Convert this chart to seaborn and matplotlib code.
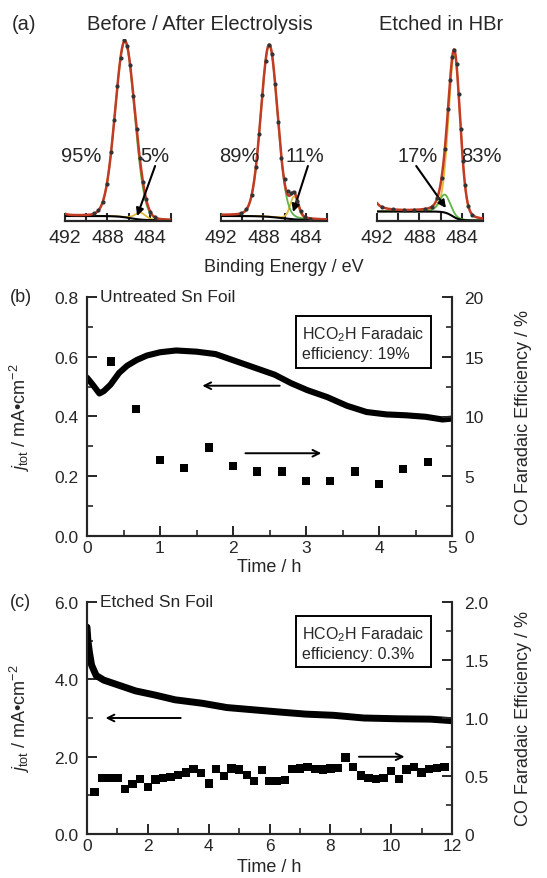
import numpy as np
import pandas as pd
import matplotlib
matplotlib.use('Agg')
import matplotlib.pyplot as plt
import seaborn as sns
from matplotlib.ticker import MultipleLocator, FixedLocator, FixedFormatter

sns.set_theme(style='ticks')
plt.rcParams['font.family'] = ['Liberation Sans', 'DejaVu Sans']
plt.rcParams['mathtext.fontset'] = 'custom'
plt.rcParams['mathtext.rm'] = 'Liberation Sans'
plt.rcParams['mathtext.it'] = 'Liberation Sans:italic'
plt.rcParams['mathtext.bf'] = 'Liberation Sans:bold'

# ---------------- data: panel (a) XPS Sn 3d5/2 ----------------
xps_titles = ["Before / After Electrolysis", "Etched in HBr"]
xps_ticks = [492, 490, 488, 486, 484, 482]
xps_ticklabels = ["492", "", "488", "", "484", ""]

# measured points (binding energy / eV, intensity / a.u.)
s1_E = [489.25, 488.85, 488.45, 488.05, 487.65, 487.35, 487.05, 486.75, 486.45, 486.15,
        485.85, 485.55, 485.25, 484.95, 484.65, 484.35, 483.95, 483.55]
s1_I = [8.1, 11.1, 19.2, 36.8, 68.9, 100.9, 134.9, 163.3, 181, 175.2, 155.6, 124.7, 92.2,
        63.3, 39.4, 22, 9.2, 3.8]
s2_E = [490.1, 489.6, 489.1, 488.7, 488.4, 488.1, 487.8, 487.5, 487.2, 486.9, 486.6,
        486.3, 486.0, 485.7, 485.4, 485.1, 484.8, 484.5, 484.1, 483.6]
s2_I = [7.9, 11.7, 26, 54.4, 87.5, 125.9, 159.6, 175.7, 166.8, 137.3, 98.7, 63.3, 42,
        30, 28, 28.7, 20.3, 10, 3.7, 2.5]
s3_E = [491.5, 490.5, 489.5, 488.5, 487.5, 486.8, 486.3, 485.9, 485.6, 485.3, 485.1,
        484.9, 484.7, 484.5, 484.3, 484.1, 483.9, 483.7, 483.4, 483.0]
s3_I = [14, 11.8, 11.1, 11.3, 12.1, 14.2, 23, 43.5, 72, 111.9, 141, 164.1, 171.2, 157.2,
        127.3, 92.1, 60.4, 36.2, 15.2, 5.8]

# fitted components: (center eV, FWHM eV, height, lorentz fraction)
s1_oxide = (486.35, 2.15, 176, 0.05)
s1_metal = (484.9, 1.2, 7, 0.3)
s1_tail = (494.75, 2.15, 117, 0.05)
s1_bg = (5.0, 0.7, 485.85, 0.6)      # left level, right level, step centre, step width
s2_oxide = (487.45, 1.85, 172, 0.1)
s2_metal = (485.1, 0.9, 23, 0.3)
s2_tail = (495.85, 1.85, 115, 0.1)
s2_bg = (5.0, 1.0, 486.4, 0.8)
s3_oxide = (485.6, 1.2, 18, 0.3)
s3_metal = (484.7, 1.3, 163, 0.2)
s3_tail = (493.2, 1.0, 100, 0.5)
s3_bg = (9.5, 0.5, 484.9, 0.35)

pct_labels = [("95%", "5%"), ("89%", "11%"), ("17%", "83%")]

# ---------------- data: panel (b) untreated Sn foil ----------------
b_time = [0, 0.08, 0.17, 0.23, 0.32, 0.44, 0.55, 0.68, 0.82, 1.0, 1.22, 1.5, 1.76, 2.03,
          2.3, 2.57, 2.8, 3.02, 3.29, 3.56, 3.83, 4.1, 4.37, 4.64, 4.87, 5.0]
b_jtot = [0.53, 0.506, 0.477, 0.485, 0.506, 0.546, 0.57, 0.589, 0.604, 0.615, 0.621, 0.617,
          0.609, 0.586, 0.563, 0.54, 0.511, 0.488, 0.465, 0.436, 0.415, 0.407, 0.404, 0.399,
          0.39, 0.393]
b_co_t = [0.33, 0.67, 1.0, 1.33, 1.67, 2.0, 2.33, 2.67, 3.0, 3.33, 3.67, 4.0, 4.33, 4.67]
b_co_fe = [14.6, 10.6, 6.35, 5.7, 7.4, 5.85, 5.4, 5.4, 4.6, 4.6, 5.4, 4.35, 5.6, 6.2]

# ---------------- data: panel (c) etched Sn foil ----------------
c_time = [0, 0.03, 0.08, 0.15, 0.3, 0.55, 1.0, 1.6, 2.2, 2.9, 3.8, 4.6, 5.5, 6.4, 7.2,
          8.1, 9.1, 10.2, 11.3, 12.0]
c_jtot = [5.35, 5.0, 4.7, 4.37, 4.1, 3.98, 3.86, 3.7, 3.6, 3.47, 3.38, 3.27, 3.21, 3.15,
          3.1, 3.07, 3.0, 2.98, 2.97, 2.93]
c_co_t = [0.25, 0.5, 0.75, 1.0, 1.25, 1.5, 1.75, 2.0, 2.25, 2.5, 2.75, 3.0, 3.25, 3.5,
          3.75, 4.0, 4.25, 4.5, 4.75, 5.0, 5.25, 5.5, 5.75, 6.0, 6.25, 6.5, 6.75, 7.0,
          7.25, 7.5, 7.75, 8.0, 8.25, 8.5, 8.75, 9.0, 9.25, 9.5, 9.75, 10.0, 10.25, 10.5,
          10.75, 11.0, 11.25, 11.5, 11.75]
c_co_fe = [0.36, 0.485, 0.485, 0.48, 0.39, 0.43, 0.475, 0.405, 0.47, 0.48, 0.49, 0.51,
           0.53, 0.56, 0.525, 0.435, 0.563, 0.50, 0.565, 0.555, 0.51, 0.455, 0.55, 0.455,
           0.455, 0.465, 0.56, 0.565, 0.58, 0.56, 0.555, 0.565, 0.57, 0.66, 0.575, 0.505,
           0.48, 0.475, 0.48, 0.545, 0.475, 0.555, 0.58, 0.53, 0.56, 0.57, 0.58]

# ---------------- figure ----------------
W, H = 547, 879
fig = plt.figure(figsize=(W / 100, H / 100), dpi=100)


def rect(l, t, r, b):
    return [l / W, 1 - b / H, (r - l) / W, (b - t) / H]


def pv(E, comp):
    c, w, h, eta = comp
    d = E - c
    return h * ((1 - eta) * np.exp(-4 * np.log(2) * d ** 2 / w ** 2) + eta / (1 + 4 * d ** 2 / w ** 2))


def bgline(E, bg):
    lo_l, lo_r, c, s = bg
    return lo_r + (lo_l - lo_r) / (1 + np.exp(-(E - c) / s))


RED = '#c23b25'
GREEN = '#5fb548'
YELLOW = '#e2b93a'
FS = 13

E = np.linspace(492, 482, 600)
specs = [
    (s1_E, s1_I, s1_oxide, s1_metal, s1_tail, s1_bg),
    (s2_E, s2_I, s2_oxide, s2_metal, s2_tail, s2_bg),
    (s3_E, s3_I, s3_oxide, s3_metal, s3_tail, s3_bg),
]
a_rects = [rect(65, 40, 171, 222), rect(221, 40, 327, 222), rect(377, 40, 483, 222)]
pct_pos = [((490.5, 66), (483.5, 66)), ((490.3, 66), (484.1, 66)), ((488.2, 66), (482.2, 66))]
arrows_a = [((483.5, 55), (485.2, 5)), ((483.8, 55), (485.2, 9)), ((488.3, 55), (485.5, 13))]

for k, (dE, dI, ox, me, tl, bg) in enumerate(specs):
    ax = fig.add_axes(a_rects[k])
    b = bgline(E, bg)
    ox_c = pv(E, ox)
    me_c = pv(E, me)
    tot = b + ox_c + me_c + pv(E, tl)
    sns.lineplot(x=E, y=b + me_c, ax=ax, color=YELLOW, lw=1.3, sort=False, estimator=None)
    sns.lineplot(x=E, y=b + ox_c, ax=ax, color=GREEN, lw=1.3, sort=False, estimator=None)
    sns.lineplot(x=E, y=b, ax=ax, color='black', lw=1.5, sort=False, estimator=None)
    sns.lineplot(x=E, y=tot, ax=ax, color=RED, lw=1.8, sort=False, estimator=None)
    ax.plot(dE, dI, 'o', color='#333333', ms=2.0, zorder=5)
    ax.set_xlim(492, 482)
    ax.set_ylim(0, 182)
    for sp in ['left', 'right', 'top']:
        ax.spines[sp].set_visible(False)
    ax.spines['bottom'].set_linewidth(1.6)
    ax.set_yticks([])
    ax.xaxis.set_major_locator(FixedLocator(xps_ticks))
    ax.xaxis.set_major_formatter(FixedFormatter(xps_ticklabels))
    ax.tick_params(axis='x', direction='in', length=6, width=1.5, pad=6, labelsize=FS + 1)
    ax.set_xlabel('')
    ax.set_ylabel('')
    ax.patch.set_alpha(0)
    (p1, p2) = pct_labels[k]
    ax.text(pct_pos[k][0][0], pct_pos[k][0][1], p1, ha='center', va='center', fontsize=FS + 1.5)
    ax.text(pct_pos[k][1][0], pct_pos[k][1][1], p2, ha='center', va='center', fontsize=FS + 1.5)
    ax.annotate('', xy=arrows_a[k][1], xytext=arrows_a[k][0],
                arrowprops=dict(arrowstyle='-|>', color='black', lw=1.5, mutation_scale=11,
                                shrinkA=0, shrinkB=0))

fig.text(12 / W, 1 - 24 / H, '(a)', fontsize=FS + 1.5, ha='left', va='center')
fig.text(200 / W, 1 - 24 / H, xps_titles[0], fontsize=FS + 1.5, ha='center', va='center')
fig.text(441 / W, 1 - 24 / H, xps_titles[1], fontsize=FS + 1.5, ha='center', va='center')
fig.text(284 / W, 1 - 268 / H, 'Binding Energy / eV', fontsize=FS, ha='center', va='center')


def style_time_axes(ax, axr, ylim, ymaj, ymin, yfmt, rlim, rmaj, rmin, rlabels, xlim, xmaj, xmin, xlab_y):
    ax.set_xlim(*xlim)
    ax.set_ylim(*ylim)
    axr.set_ylim(*rlim)
    for a in (ax, axr):
        a.spines['top'].set_visible(False)
        for sp in ['left', 'right', 'bottom']:
            a.spines[sp].set_linewidth(1.5)
    ax.xaxis.set_major_locator(MultipleLocator(xmaj))
    ax.xaxis.set_minor_locator(MultipleLocator(xmin))
    ax.yaxis.set_major_locator(MultipleLocator(ymaj))
    ax.yaxis.set_minor_locator(MultipleLocator(ymin))
    ax.set_yticklabels([yfmt.format(v) for v in ax.get_yticks()])
    axr.yaxis.set_major_locator(FixedLocator(rmaj))
    axr.yaxis.set_major_formatter(FixedFormatter(rlabels))
    axr.yaxis.set_minor_locator(MultipleLocator(rmin))
    ax.tick_params(axis='both', which='major', direction='in', length=7, width=1.4, labelsize=FS - 0.5)
    ax.tick_params(axis='both', which='minor', direction='in', length=4, width=1.2)
    ax.tick_params(axis='x', pad=3)
    ax.tick_params(axis='y', pad=6)
    ax.tick_params(right=False, top=False, which='both')
    axr.tick_params(axis='y', which='major', direction='in', length=7, width=1.4, labelsize=FS - 0.5, pad=9)
    axr.tick_params(axis='y', which='minor', direction='in', length=4, width=1.2)
    ax.set_xlabel('Time / h', fontsize=FS, labelpad=0)
    ax.xaxis.set_label_coords(0.5, xlab_y)
    ax.set_ylabel(r'$j_{\mathrm{tot}}$ / mA•cm$^{-2}$', fontsize=FS)
    ax.yaxis.set_label_coords(-0.15, 0.5)
    axr.set_ylabel('CO Faradaic Efficiency / %', fontsize=FS)
    axr.yaxis.set_label_coords(1.173, 0.5)


# ---------------- panel (b) ----------------
axb = fig.add_axes(rect(87, 298, 452, 537))
axbr = axb.twinx()
sns.lineplot(x=b_time, y=b_jtot, ax=axb, color='black', lw=4.4, sort=False, estimator=None)
sns.scatterplot(x=b_co_t, y=b_co_fe, ax=axbr, color='black', marker='s', s=36, edgecolor='none')
style_time_axes(axb, axbr, (0, 0.8), 0.2, 0.1, '{:.1f}', (0, 20), [0, 5, 10, 15, 20], 2.5,
                ['0', '5', '10', '15', '20'], (0, 5), 1, 0.5, -0.092)
axb.annotate('', xy=(1.58, 0.503), xytext=(2.64, 0.503),
             arrowprops=dict(arrowstyle='->', color='black', lw=1.4, mutation_scale=12, shrinkA=0, shrinkB=0))
axb.annotate('', xy=(3.21, 0.277), xytext=(2.17, 0.277),
             arrowprops=dict(arrowstyle='->', color='black', lw=1.4, mutation_scale=12, shrinkA=0, shrinkB=0))
axb.text(0.59, 0.885, 'HCO$_2$H Faradaic\nefficiency: 19%', transform=axb.transAxes,
         ha='left', va='top', fontsize=FS - 1.5, linespacing=1.25,
         bbox=dict(boxstyle='square,pad=0.42', fc='white', ec='black', lw=1.4))
fig.text(10 / W, 1 - 298 / H, '(b)', fontsize=FS, ha='left', va='center')
fig.text(100 / W, 1 - 298 / H, 'Untreated Sn Foil', fontsize=FS - 0.5, ha='left', va='center')

# ---------------- panel (c) ----------------
axc = fig.add_axes(rect(87, 603, 452, 835))
axcr = axc.twinx()
sns.lineplot(x=c_time, y=c_jtot, ax=axc, color='black', lw=5.0, sort=False, estimator=None)
sns.scatterplot(x=c_co_t, y=c_co_fe, ax=axcr, color='black', marker='s', s=36, edgecolor='none')
style_time_axes(axc, axcr, (0, 6), 2, 1, '{:.1f}', (0, 2), [0, 0.5, 1.0, 1.5, 2.0], 0.25,
                ['0', '0.5', '1.0', '1.5', '2.0'], (0, 12), 2, 1, -0.105)
axc.annotate('', xy=(0.61, 3.0), xytext=(3.08, 3.0),
             arrowprops=dict(arrowstyle='->', color='black', lw=1.4, mutation_scale=12, shrinkA=0, shrinkB=0))
axcr.annotate('', xy=(10.44, 0.666), xytext=(8.94, 0.666),
              arrowprops=dict(arrowstyle='->', color='black', lw=1.4, mutation_scale=12, shrinkA=0, shrinkB=0))
axc.text(0.59, 0.905, 'HCO$_2$H Faradaic\nefficiency: 0.3%', transform=axc.transAxes,
         ha='left', va='top', fontsize=FS - 1.5, linespacing=1.25,
         bbox=dict(boxstyle='square,pad=0.42', fc='white', ec='black', lw=1.4))
fig.text(10 / W, 1 - 603 / H, '(c)', fontsize=FS, ha='left', va='center')
fig.text(100 / W, 1 - 603 / H, 'Etched Sn Foil', fontsize=FS - 0.5, ha='left', va='center')

fig.savefig('out.png', dpi=100)
